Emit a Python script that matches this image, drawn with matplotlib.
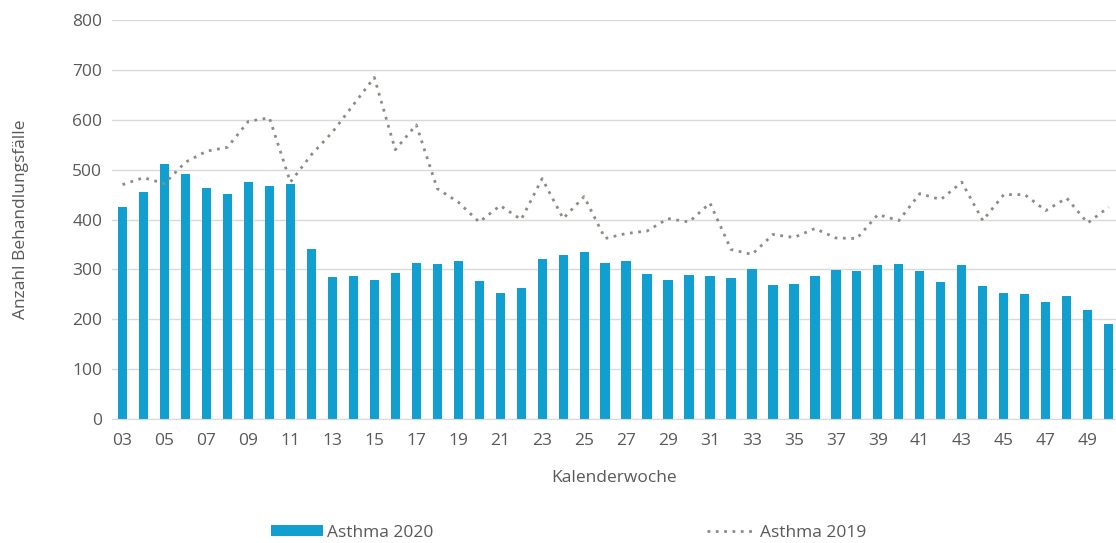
import numpy as np
import matplotlib.pyplot as plt

plt.rcParams['font.family'] = ['Open Sans', 'DejaVu Sans']

weeks = ['%02d' % w for w in range(3, 51)]
asthma_2020 = [426, 456, 512, 492, 464, 452, 476, 467, 472, 341,
               284, 286, 278, 293, 313, 311, 316, 276, 253, 263,
               321, 328, 335, 313, 317, 291, 278, 288, 287, 282,
               301, 269, 270, 287, 299, 297, 308, 310, 297, 274,
               308, 267, 252, 250, 234, 246, 218, 191]
asthma_2019 = [470, 484, 472, 515, 537, 545, 597, 604, 475, 530,
               575, 630, 685, 540, 590, 462, 435, 395, 428, 400,
               482, 402, 446, 362, 372, 377, 402, 395, 433, 340,
               330, 370, 364, 382, 363, 362, 410, 398, 452, 440,
               475, 398, 450, 450, 418, 443, 393, 425]

fig = plt.figure(figsize=(11.16, 5.43), dpi=100)
ax = fig.add_axes([0.1004, 0.2284, 0.8996, 0.7346])

x = np.arange(len(weeks))
bars = ax.bar(x, asthma_2020, width=0.44, color='#119fd0', label='Asthma 2020', zorder=2)
line, = ax.plot(x, asthma_2019, color='#8c8c84', lw=2, linestyle=(0, (1, 2)),
                label='Asthma 2019', zorder=3)

ax.set_ylim(0, 800)
ax.set_xlim(-0.5, 47.35)
ax.set_yticks(range(0, 801, 100))
ax.set_xticks(x[::2])
ax.set_xticklabels(weeks[::2])
ax.grid(axis='y', color='#d9d9d9', lw=1, zorder=0)
for s in ['top', 'right', 'left']:
    ax.spines[s].set_visible(False)
ax.spines['bottom'].set_color('#d9d9d9')
ax.tick_params(axis='both', length=0, labelsize=12.5, colors='#595959', pad=10)
ax.tick_params(axis='y', pad=7)
ax.set_xlabel('Kalenderwoche', fontsize=12.5, color='#595959', labelpad=15)
ax.set_ylabel('Anzahl Behandlungsfälle', fontsize=12.5, color='#595959', labelpad=31)

fig.legend(handles=[bars], loc='center left', bbox_to_anchor=(271 / 1116, 1 - 533 / 543),
           frameon=False, fontsize=12.5, labelcolor='#595959', borderpad=0,
           borderaxespad=0, handlelength=3.0, handleheight=0.6, handletextpad=0.25)
fig.legend(handles=[line], loc='center left', bbox_to_anchor=(707 / 1116, 1 - 533 / 543),
           frameon=False, fontsize=12.5, labelcolor='#595959', borderpad=0,
           borderaxespad=0, handlelength=2.6, handletextpad=0.45)

fig.savefig('out.png', dpi=100)
